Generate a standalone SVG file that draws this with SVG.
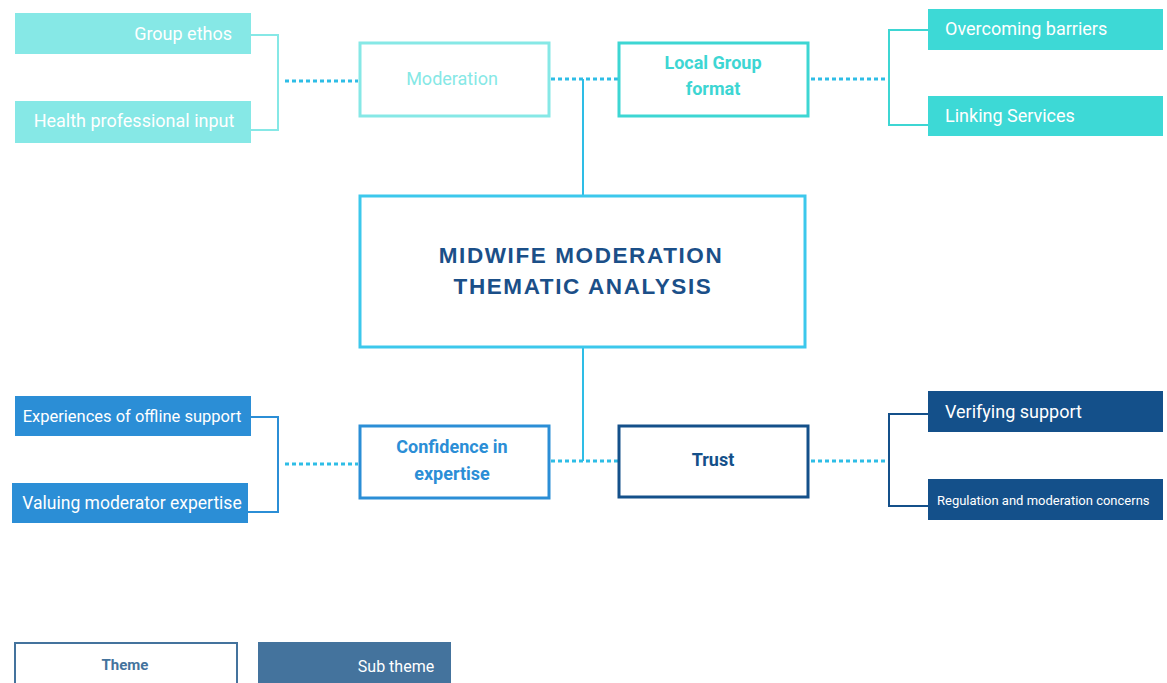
<svg xmlns="http://www.w3.org/2000/svg" width="1167" height="683" viewBox="0 0 1167 683">
<style>
text{font-family:Roboto,"Liberation Sans",sans-serif;}
.sub{font-size:18px;fill:#ffffff;}
.dot{stroke:#2EBDE6;stroke-width:3;stroke-dasharray:4 3;fill:none;}
.solid{stroke-width:2;fill:none;}
.theme{fill:#ffffff;stroke-width:3;}
.tt{font-size:18px;font-weight:bold;text-anchor:middle;}
.title{font-family:"Liberation Sans",Arial,sans-serif;font-size:22.5px;font-weight:bold;fill:#1B4F88;text-anchor:middle;letter-spacing:1.6px;}
</style>
<rect width="1167" height="683" fill="#ffffff"/>
<g id="connectors">
  <path class="solid" stroke="#86E8E6" d="M251 35 H278 V130 H251"/>
  <line class="dot" x1="285" y1="81" x2="358" y2="81"/>
  <line class="dot" x1="551" y1="79" x2="618" y2="79"/>
  <line class="dot" x1="811" y1="79" x2="886" y2="79"/>
  <path class="solid" stroke="#3DD6D3" d="M928 30 H889 V125 H928"/>
  <line stroke="#2EBDE6" stroke-width="2" x1="583" y1="79" x2="583" y2="196"/>
  <line stroke="#2EBDE6" stroke-width="2" x1="583" y1="347" x2="583" y2="461"/>
  <path class="solid" stroke="#2B8ED6" d="M251 417 H278 V512 H248"/>
  <line class="dot" x1="285" y1="464" x2="358" y2="464"/>
  <line class="dot" x1="551" y1="461" x2="618" y2="461"/>
  <line class="dot" x1="811" y1="461" x2="886" y2="461"/>
  <path class="solid" stroke="#14508A" d="M928 414 H889 V506 H928"/>
</g>
<g id="group-ethos">
  <rect x="15" y="13" width="236" height="41" fill="#86E8E6"/>
  <text class="sub" x="232" y="40" text-anchor="end">Group ethos</text>
</g>
<g id="health-professional-input">
  <rect x="15" y="101" width="236" height="42" fill="#86E8E6"/>
  <text class="sub" x="134" y="127" text-anchor="middle">Health professional input</text>
</g>
<g id="moderation">
  <rect class="theme" x="360" y="43" width="189" height="73" stroke="#86E8E6"/>
  <text x="452" y="85" style="font-size:18px" fill="#86E8E6" text-anchor="middle">Moderation</text>
</g>
<g id="local-group-format">
  <rect class="theme" x="619" y="43" width="189" height="73" stroke="#3DD6D3"/>
  <text class="tt" fill="#3DD6D3" x="713" y="69">Local Group</text>
  <text class="tt" fill="#3DD6D3" x="713" y="95">format</text>
</g>
<g id="overcoming-barriers">
  <rect x="928" y="9" width="235" height="41" fill="#3DD9D6"/>
  <text class="sub" x="945" y="35">Overcoming barriers</text>
</g>
<g id="linking-services">
  <rect x="928" y="96" width="235" height="40" fill="#3DD9D6"/>
  <text class="sub" x="945" y="122">Linking Services</text>
</g>
<g id="central">
  <rect x="360" y="196" width="445" height="151" fill="#ffffff" stroke="#3CC8EC" stroke-width="3"/>
  <text class="title" x="581" y="263">MIDWIFE MODERATION</text>
  <text class="title" x="583" y="294">THEMATIC ANALYSIS</text>
</g>
<g id="experiences-offline-support">
  <rect x="15" y="396" width="236" height="40" fill="#2B8ED6"/>
  <text class="sub" x="132" y="422" text-anchor="middle" style="font-size:16.5px">Experiences of offline support</text>
</g>
<g id="valuing-moderator-expertise">
  <rect x="12" y="483" width="236" height="40" fill="#2B8ED6"/>
  <text class="sub" x="132" y="509" text-anchor="middle" style="font-size:17.5px">Valuing moderator expertise</text>
</g>
<g id="confidence-in-expertise">
  <rect class="theme" x="360" y="426" width="189" height="72" stroke="#2B8ED6"/>
  <text class="tt" fill="#2B8ED6" x="452" y="453">Confidence in</text>
  <text class="tt" fill="#2B8ED6" x="452" y="480">expertise</text>
</g>
<g id="trust">
  <rect class="theme" x="619" y="426" width="189" height="71" stroke="#14508A"/>
  <text class="tt" fill="#14508A" x="713" y="466">Trust</text>
</g>
<g id="verifying-support">
  <rect x="928" y="391" width="235" height="41" fill="#14508A"/>
  <text class="sub" x="945" y="418">Verifying support</text>
</g>
<g id="regulation-moderation-concerns">
  <rect x="928" y="479" width="235" height="41" fill="#14508A"/>
  <text class="sub" x="937" y="505" style="font-size:13px">Regulation and moderation concerns</text>
</g>
<g id="legend-theme">
  <rect x="15" y="643" width="222" height="45" fill="#ffffff" stroke="#44739D" stroke-width="2"/>
  <text x="125" y="670" style="font-size:15px" font-weight="bold" fill="#44739D" text-anchor="middle">Theme</text>
</g>
<g id="legend-sub-theme">
  <rect x="258" y="642" width="193" height="45" fill="#44739D"/>
  <text x="396" y="672" style="font-size:16px" fill="#ffffff" text-anchor="middle">Sub theme</text>
</g>
</svg>
